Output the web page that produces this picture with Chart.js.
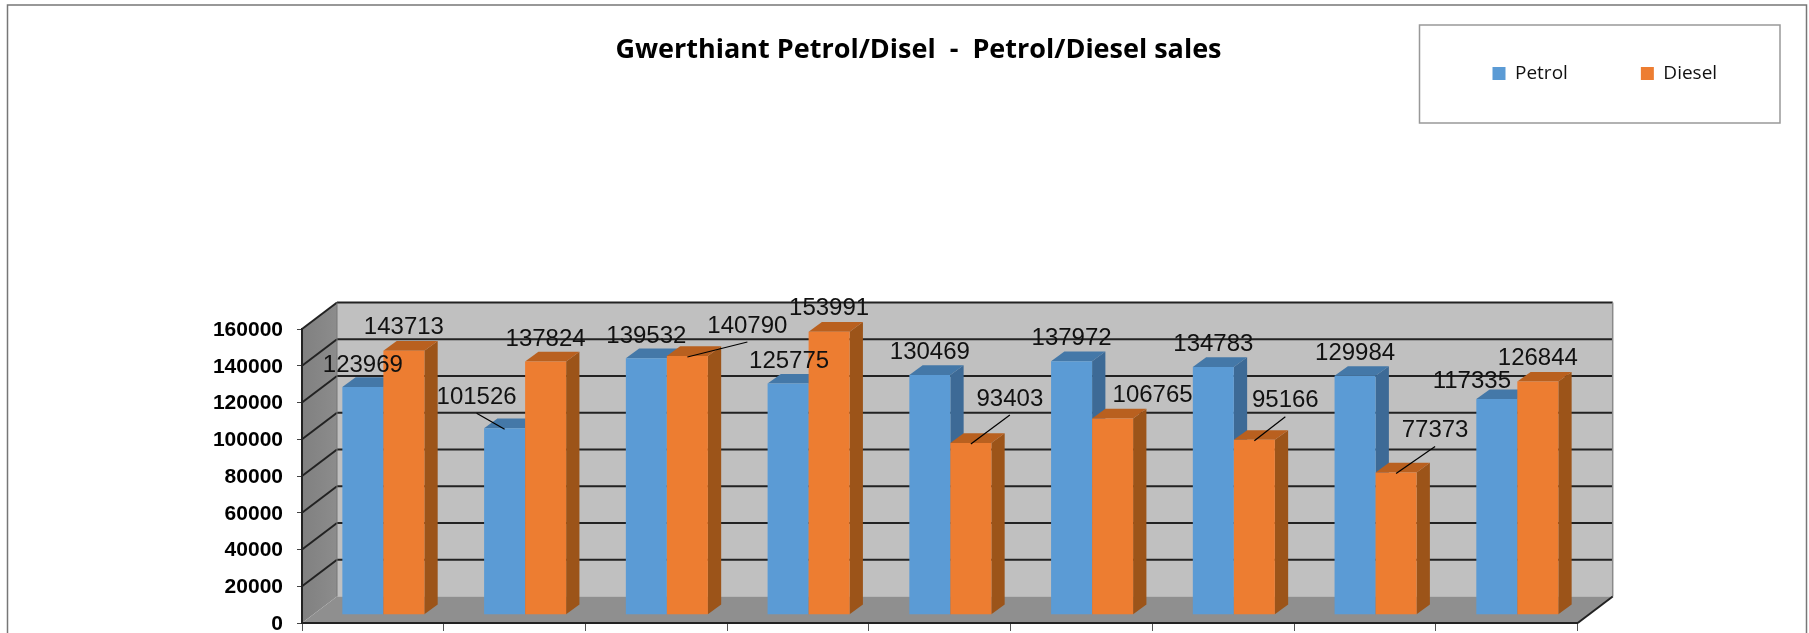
<!DOCTYPE html>
<html>
<head>
<meta charset="utf-8">
<title>Gwerthiant Petrol/Disel</title>
<script src="https://cdn.jsdelivr.net/npm/chart.js@4"></script>
<style>
    html, body { margin: 0; padding: 0; background: #fff; }
    canvas { display: block; }
</style>
</head>
<body>
<canvas id="salesChart" width="1809" height="633"></canvas>
<script>
// Chart data
const categories = ['1', '2', '3', '4', '5', '6', '7', '8', '9'];
const petrolValues = [123969, 101526, 139532, 125775, 130469, 137972, 134783, 129984, 117335];
const dieselValues = [143713, 137824, 140790, 153991, 93403, 106765, 95166, 77373, 126844];
const yTicks = [0, 20000, 40000, 60000, 80000, 100000, 120000, 140000, 160000];

// Data label offsets from the top middle of each bar
const petrolLabelDx = [0, -28, 0, 1, 0, 0, 0, 0, -25];
const petrolLabelDy = [-22, -31, -22, -22, -23, -23, -23, -22, -18];
const dieselLabelDx = [0, 0, 60, 0, 39, 40, 31, 39, 0];
const dieselLabelDy = [-23, -22, -30, -23, -44, -23, -39, -42, -23];

// Which labels have a leader line to their bar
const petrolLeaders = [1];
const dieselLeaders = [2, 4, 6, 7];

// Fake 3D settings
const wallDx = 35;
const wallDy = -26.5;
const barShiftX = 10.5;
const barShiftY = -8.3;
const barDepthX = 13.3;
const barDepthY = -9.7;

const barColors = [
    { face: '#5b9bd5', side: '#3d6a96', top: '#4478a8' },
    { face: '#ed7d31', side: '#9c5419', top: '#b9601f' }
];

function polygon(ctx, points, fill) {
    ctx.beginPath();
    points.forEach((p, i) => i === 0 ? ctx.moveTo(p[0], p[1]) : ctx.lineTo(p[0], p[1]));
    ctx.closePath();
    ctx.fillStyle = fill;
    ctx.fill();
}

function line(ctx, x1, y1, x2, y2, color, width) {
    ctx.beginPath();
    ctx.moveTo(x1, y1);
    ctx.lineTo(x2, y2);
    ctx.strokeStyle = color;
    ctx.lineWidth = width;
    ctx.stroke();
}

// Draws frame, legend box and the walls and floor of the 3D box
const wallsPlugin = {
    id: 'walls',
    beforeDraw(chart) {
        const ctx = chart.ctx;
        const area = chart.chartArea;
        const y = chart.scales.y;
        const left = area.left, right = area.right, bottom = area.bottom, top = area.top;

        ctx.save();
        ctx.fillStyle = '#fff';
        ctx.fillRect(0, 0, chart.width, chart.height);

        // outer frame, cut off at the bottom
        ctx.beginPath();
        ctx.moveTo(7.5, chart.height);
        ctx.lineTo(7.5, 5);
        ctx.lineTo(1806.5, 5);
        ctx.lineTo(1806.5, chart.height);
        ctx.strokeStyle = '#777';
        ctx.lineWidth = 1.5;
        ctx.stroke();

        // legend box
        ctx.strokeStyle = '#999';
        ctx.lineWidth = 1.5;
        ctx.strokeRect(1419.5, 25, 360.5, 98);

        // back wall
        polygon(ctx, [[left + wallDx, top + wallDy], [right + wallDx, top + wallDy],
            [right + wallDx, bottom + wallDy], [left + wallDx, bottom + wallDy]], '#c0c0c0');

        // left wall
        const wallGrad = ctx.createLinearGradient(left, 0, left + wallDx, 0);
        wallGrad.addColorStop(0, '#808080');
        wallGrad.addColorStop(1, '#8c8c8c');
        polygon(ctx, [[left, top], [left + wallDx, top + wallDy],
            [left + wallDx, bottom + wallDy], [left, bottom]], wallGrad);

        // floor
        polygon(ctx, [[left, bottom], [left + wallDx, bottom + wallDy],
            [right + wallDx, bottom + wallDy], [right, bottom]], '#8f8f8f');

        // grid lines along both walls
        yTicks.forEach(v => {
            const py = y.getPixelForValue(v);
            if (v > 0) {
                line(ctx, left, py, left + wallDx, py + wallDy, '#222', 2);
                line(ctx, left + wallDx, py + wallDy, right + wallDx, py + wallDy, '#222', 2);
            }
        });

        line(ctx, right + wallDx, top + wallDy, right + wallDx, bottom + wallDy, '#8a8a8a', 1.5);
        line(ctx, left + wallDx, top + wallDy, left + wallDx, bottom + wallDy, '#777', 1);
        line(ctx, right, bottom, right + wallDx, bottom + wallDy, '#222', 2);
        ctx.restore();
    },
    // Move title and legend to where they sit in the original
    afterLayout(chart) {
        const title = chart.titleBlock;
        title.top = 34;
        title.left = 14;
        title.right = chart.width + 14;

        const legend = chart.legend;
        const pad = legend.options.labels.padding;
        legend.left = 1492.5 - pad;
        legend.right = 1800;
        legend.top = 64 - pad;
    }
};

// Draws the datasets by hand so Petrol goes under Diesel, with depth faces
const barsPlugin = {
    id: 'bars3d',
    beforeDatasetsDraw(chart) {
        const ctx = chart.ctx;
        ctx.save();
        ctx.translate(barShiftX, barShiftY);
        [0, 1].forEach(d => {
            const meta = chart.getDatasetMeta(d);
            const colors = barColors[d];
            meta.data.forEach(bar => {
                const l = bar.x - bar.width / 2;
                const r = bar.x + bar.width / 2;
                polygon(ctx, [[r, bar.y], [r + barDepthX, bar.y + barDepthY],
                    [r + barDepthX, bar.base + barDepthY], [r, bar.base]], colors.side);
                polygon(ctx, [[l, bar.y], [l + barDepthX, bar.y + barDepthY],
                    [r + barDepthX, bar.y + barDepthY], [r, bar.y]], colors.top);
            });
            meta.controller.draw();
        });
        ctx.restore();
        return false;
    },
    afterDraw(chart) {
        const ctx = chart.ctx;
        const sets = [
            { values: petrolValues, dx: petrolLabelDx, dy: petrolLabelDy, leaders: petrolLeaders },
            { values: dieselValues, dx: dieselLabelDx, dy: dieselLabelDy, leaders: dieselLeaders }
        ];
        ctx.save();
        ctx.font = '24px "Liberation Sans"';
        ctx.fillStyle = '#111';
        ctx.textAlign = 'center';
        ctx.textBaseline = 'middle';
        sets.forEach((set, d) => {
            chart.getDatasetMeta(d).data.forEach((bar, i) => {
                const barX = bar.x + barShiftX;
                const barY = bar.y + barShiftY;
                const labelX = barX + set.dx[i];
                const labelY = barY + set.dy[i];
                ctx.fillText(String(set.values[i]), labelX, labelY);
                if (set.leaders.includes(i)) {
                    line(ctx, labelX, labelY + 16, barX, barY + 1, '#000', 1.2);
                }
            });
        });
        ctx.restore();
    }
};

new Chart(document.getElementById('salesChart'), {
    type: 'bar',
    data: {
        labels: categories,
        datasets: [
            { label: 'Petrol', data: petrolValues, backgroundColor: barColors[0].face },
            { label: 'Diesel', data: dieselValues, backgroundColor: barColors[1].face }
        ]
    },
    options: {
        responsive: false,
        animation: false,
        categoryPercentage: 0.5787,
        barPercentage: 1,
        layout: { padding: { left: 0, right: 231.3, top: 0, bottom: 0 } },
        plugins: {
            tooltip: { enabled: false },
            title: {
                display: true,
                text: 'Gwerthiant Petrol/Disel  -  Petrol/Diesel sales',
                color: '#000',
                font: { family: '"Open Sans"', size: 27, weight: 'bold' },
                padding: { top: 0, bottom: 194.6 }
            },
            legend: {
                display: true,
                position: 'top',
                align: 'start',
                onClick: null,
                labels: {
                    boxWidth: 13,
                    boxHeight: 13,
                    padding: 73,
                    color: '#111',
                    font: { family: '"Open Sans"', size: 19 }
                }
            }
        },
        scales: {
            x: {
                ticks: { display: false },
                grid: { drawOnChartArea: false, color: '#555', tickLength: 8 },
                border: { color: '#222', width: 2 },
                afterFit(scale) {
                    scale.height = 10;
                    scale.paddingLeft = 0;
                    scale.paddingRight = 0;
                }
            },
            y: {
                min: 0,
                max: 160000,
                afterBuildTicks(scale) { scale.ticks = yTicks.map(v => ({ value: v })); },
                ticks: {
                    color: '#000',
                    padding: 14,
                    labelOffset: 1,
                    font: { family: '"Liberation Sans"', size: 21, weight: 'bold' },
                    callback: v => String(v)
                },
                grid: { drawOnChartArea: false, color: '#444', tickLength: 5 },
                border: { color: '#222', width: 2 },
                afterFit(scale) {
                    scale.width = 302;
                    scale.paddingTop = 0;
                    scale.paddingBottom = 0;
                }
            }
        }
    },
    plugins: [wallsPlugin, barsPlugin]
});
</script>
</body>
</html>
